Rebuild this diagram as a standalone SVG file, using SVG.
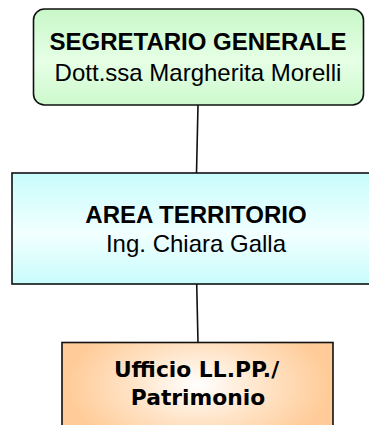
<svg xmlns="http://www.w3.org/2000/svg" width="369" height="425" viewBox="0 0 369 425">
  <defs>
    <linearGradient id="gGreen" x1="0" y1="0" x2="0" y2="1">
      <stop offset="0" stop-color="#C8F7C8"/>
      <stop offset="0.55" stop-color="#E6FFE6"/>
      <stop offset="1" stop-color="#CCF9CC"/>
    </linearGradient>
    <linearGradient id="gCyan" x1="0" y1="0" x2="0" y2="1">
      <stop offset="0" stop-color="#C8FCFC"/>
      <stop offset="0.55" stop-color="#F2FFFF"/>
      <stop offset="1" stop-color="#C8FCFC"/>
    </linearGradient>
    <radialGradient id="gOrange" gradientUnits="userSpaceOnUse" cx="198" cy="385" r="130" gradientTransform="translate(198 385) scale(1 0.55) translate(-198 -385)">
      <stop offset="0" stop-color="#FFFFFF"/>
      <stop offset="0.5" stop-color="#FFE4C8"/>
      <stop offset="1" stop-color="#FFCC99"/>
    </radialGradient>
  </defs>
  <style>
    .box { stroke: #111111; stroke-width: 1.6; }
    .conn { stroke: #111111; stroke-width: 1.6; fill: none; }
    .t1 { font-family: "Liberation Sans", Arial, sans-serif; font-size: 24px; fill: #000000; text-anchor: middle; }
    .b { font-weight: bold; }
    .t3 { font-family: "DejaVu Sans", Verdana, sans-serif; font-weight: bold; font-size: 21.8px; fill: #000000; text-anchor: middle; }
  </style>
  <g id="connectors">
    <line class="conn" x1="198" y1="105" x2="196.5" y2="173"/>
    <line class="conn" x1="196.7" y1="284" x2="198" y2="342.5"/>
  </g>
  <g id="segretario">
    <rect class="box" x="33.5" y="9" width="330" height="96" rx="11" ry="11" fill="url(#gGreen)"/>
    <text class="t1 b" x="198" y="50">SEGRETARIO GENERALE</text>
    <text class="t1" x="198" y="81">Dott.ssa Margherita Morelli</text>
  </g>
  <g id="area">
    <rect class="box" x="12" y="173" width="370" height="111" fill="url(#gCyan)"/>
    <text class="t1 b" x="196" y="223">AREA TERRITORIO</text>
    <text class="t1" x="196" y="252">Ing. Chiara Galla</text>
  </g>
  <g id="ufficio">
    <rect class="box" x="62" y="342.5" width="271" height="100" fill="url(#gOrange)"/>
    <text class="t3" x="196.5" y="377">Ufficio LL.PP./</text>
    <text class="t3" x="198" y="405">Patrimonio</text>
  </g>
</svg>
